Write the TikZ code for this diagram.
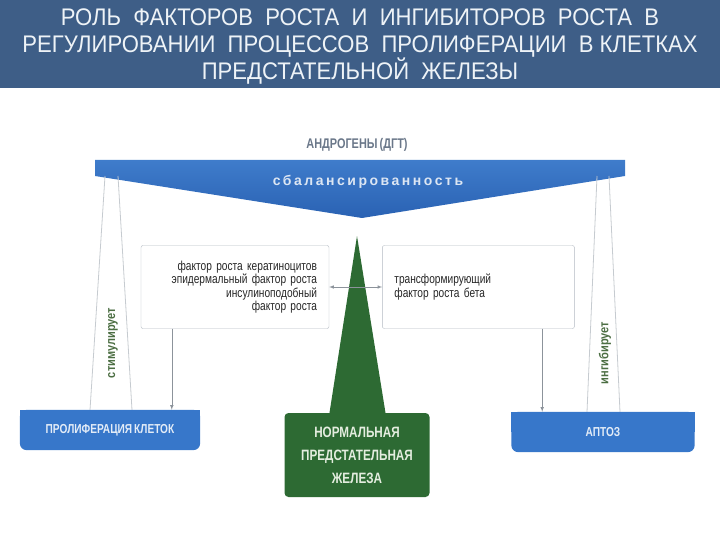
\documentclass[tikz,border=0pt]{standalone}
\usepackage{fontspec}
\setmainfont{Liberation Sans}
\newfontfamily\narrowsans{Liberation Sans}[FakeStretch=0.85]
\newfontfamily\titlesans{Liberation Sans}[FakeStretch=0.92]
\newfontfamily\slimsans{Liberation Sans}[FakeStretch=0.78, WordSpace=0.7]
\newfontfamily\widesans{Liberation Sans}[LetterSpace=18]
\usepackage{tikz}
\usetikzlibrary{shapes,arrows,positioning,fit,calc}

\definecolor{titlebg}{HTML}{3E5E87}
\definecolor{titlefg}{HTML}{EEF3F7}
\definecolor{beamtop}{HTML}{3F7CCB}
\definecolor{beambot}{HTML}{2A62B3}
\definecolor{beamfg}{HTML}{DCE6F3}
\definecolor{androgray}{HTML}{6A7789}
\definecolor{panblue}{HTML}{3777CA}
\definecolor{panfg}{HTML}{E3ECF7}
\definecolor{glandgreen}{HTML}{2D6A33}
\definecolor{glandfg}{HTML}{E4EDDF}
\definecolor{boxframe}{HTML}{B3BAC2}
\definecolor{boxtext}{HTML}{262626}
\definecolor{ropegray}{HTML}{C6CBD0}
\definecolor{arrowgray}{HTML}{8C939B}
\definecolor{verbgreen}{HTML}{4C6E43}

\begin{document}
\begin{tikzpicture}[
    x=1pt, y=-1pt,
    titletext/.style={text=titlefg, align=center, font=\titlesans\fontsize{24}{27}\selectfont},
    andro/.style={text=androgray, font=\slimsans\bfseries\fontsize{14}{16}\selectfont},
    beamtext/.style={text=beamfg, font=\widesans\bfseries\fontsize{14}{16}\selectfont},
    gfbox/.style={rectangle, draw=boxframe, fill=white, rounded corners=2pt, minimum height=83, inner xsep=12, text=boxtext, font=\slimsans\fontsize{13}{13.5}\selectfont},
    pan/.style={rectangle, text=panfg, minimum height=40, font=\slimsans\bfseries\fontsize{13}{15}\selectfont},
    gland/.style={rectangle, fill=glandgreen, rounded corners=4pt, minimum width=145, minimum height=84, align=center, text=glandfg, font=\slimsans\bfseries\fontsize{15}{23}\selectfont},
    verb/.style={rotate=90, text=verbgreen, font=\narrowsans\bfseries\fontsize{13}{15}\selectfont},
    rope/.style={draw=ropegray, line width=0.8pt},
    line/.style={draw=arrowgray, -latex, line width=0.6pt},
    biline/.style={draw=arrowgray, latex-latex, line width=0.6pt}
]
% Shapes go behind the texts
\pgfdeclarelayer{bg}
\pgfsetlayers{bg,main}

\useasboundingbox (0,0) rectangle (720,540);

% ----------------------------
% Nodes
% ----------------------------
\node[titletext] (title) at (360,47) {РОЛЬ~ ФАКТОРОВ~ РОСТА~ И~ ИНГИБИТОРОВ~ РОСТА~ В\\
    РЕГУЛИРОВАНИИ~ ПРОЦЕССОВ~ ПРОЛИФЕРАЦИИ~ В КЛЕТКАХ\\
    ПРЕДСТАТЕЛЬНОЙ~ ЖЕЛЕЗЫ};

\node[andro] (andro) at (357,145) {АНДРОГЕНЫ (ДГТ)};
\node[beamtext] (balance) at (368,182) {сбалансированность};

\node[gfbox, text width=164, align=right] (gf) at (235,287)
    {фактор роста кератиноцитов\\эпидермальный фактор роста\\инсулиноподобный\\фактор роста};
\node[gfbox, text width=168, align=left, right=53pt of gf] (tgf)
    {трансформирующий\\фактор роста бета};

\node[verb] (stim) at (113,343) {стимулирует};
\node[verb] (inhib) at (605,353) {ингибирует};

\node[pan, minimum width=180] (prolif) at (110,430) {ПРОЛИФЕРАЦИЯ КЛЕТОК};
\node[pan, minimum width=183] (apop) at (603,432) {АПТОЗ};

\node[gland] (gland) at (357,455) {НОРМАЛЬНАЯ\\ПРЕДСТАТЕЛЬНАЯ\\ЖЕЛЕЗА};

% ----------------------------
% Scale (background layer)
% ----------------------------
\begin{pgfonlayer}{bg}
\fill[titlebg] (0,0) rectangle (720,88);

% beam
\shade[top color=beamtop, bottom color=beambot]
    (95,160) -- (625,160) -- (625,176) -- (362,218) -- (95,176) -- cycle;

% needle
\fill[glandgreen] (357,236) -- (386,416) -- (329,416) -- cycle;

% strings
\path[rope] (105,176) -- (90,410);
\path[rope] (118,176) -- (132,410);
\path[rope] (597,176) -- (587,412);
\path[rope] (609,176) -- (620,412);

% pans
\fill[panblue, rounded corners=7pt] (prolif.north west) rectangle (prolif.south east);
\fill[panblue] (prolif.north west) rectangle (prolif.east);
\fill[panblue, rounded corners=7pt] (apop.north west) rectangle (apop.south east);
\fill[panblue] (apop.north west) rectangle (apop.east);
\end{pgfonlayer}

% ----------------------------
% Edges
% ----------------------------
\path[biline] (gf.east) -- (gf.east -| tgf.west);

\path[line] ($(gf.south west)+(31,0)$) coordinate (gfout) -- (gfout |- prolif.north);
\path[line] ($(tgf.south west)+(160,0)$) coordinate (tgfout) -- (tgfout |- apop.north);

\end{tikzpicture}
\end{document}
